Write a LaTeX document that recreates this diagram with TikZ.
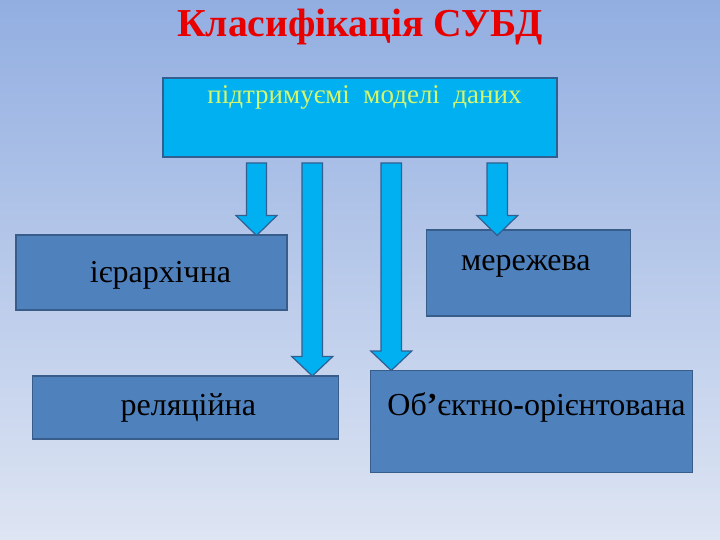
\documentclass[tikz,border=0pt]{standalone}
\usepackage{fontspec}
\setmainfont{Liberation Serif}
\definecolor{bgtop}{RGB}{146,174,225}
\definecolor{bgmid}{RGB}{190,205,236}
\definecolor{bgbot}{RGB}{222,229,243}
\definecolor{boxfill}{RGB}{79,129,189}
\definecolor{boxline}{RGB}{56,93,138}
\definecolor{cyanfill}{RGB}{0,176,240}
\definecolor{cyanline}{RGB}{50,95,145}
\definecolor{toptext}{RGB}{212,246,110}
\definecolor{titlered}{RGB}{232,0,0}
\tikzset{
  box/.style={draw=boxline, line width=1.5pt, fill=boxfill, inner sep=0pt},
  topbox/.style={draw=cyanline, line width=1.5pt, fill=cyanfill, inner sep=0pt},
  boxtext/.style={anchor=base, inner sep=0pt, font=\fontsize{32}{36}\selectfont, text=black},
  blockarrow/.style={draw=cyanline, line width=1.2pt, fill=cyanfill, line join=miter},
}
\newcommand{\blkarrow}[6]{% xl xr ytop yhead halfhead tip-y
  \path[blockarrow] (#1,#3) -- (#2,#3) -- (#2,#4) -- ({(#1+#2)/2+#5},#4) -- ({(#1+#2)/2},#6) -- ({(#1+#2)/2-#5},#4) -- (#1,#4) -- cycle;}
\begin{document}
\begin{tikzpicture}[x=1pt,y=-1pt]
\shade[top color=bgtop, middle color=bgmid, bottom color=bgbot] (0,0) rectangle (720,540);
\useasboundingbox (0,0) rectangle (720,540);
% title
\node[anchor=base, inner sep=0pt, text=titlered, font=\fontsize{39.6}{44}\selectfont\bfseries] (title) at (360,37) {Класифікація СУБД};
% top box
\node[topbox, minimum width=394pt, minimum height=79pt] (top) at (360,117.5) {};
\node[anchor=base, inner sep=0pt, text=toptext, font=\fontsize{27}{31}\selectfont] (toplabel) at (364.5,104) {підтримуємі\ \ моделі\ \ даних};
% boxes
\node[box, minimum width=271pt, minimum height=75pt] (hier) at (151.5,272.5) {};
\node[boxtext] (hierlabel) at (160.5,282) {ієрархічна};
\node[box, minimum width=204pt, minimum height=85.7pt] (net) at (528.7,272.9) {};
\node[boxtext] (netlabel) at (525.8,270) {мережева};
\node[box, minimum width=305.6pt, minimum height=63pt] (rel) at (185.5,407.5) {};
\node[boxtext] (rellabel) at (188.3,415) {реляційна};
\node[box, minimum width=321.6pt, minimum height=101.6pt] (oo) at (531.5,421.5) {};
\node[boxtext] (oolabel) at (536.5,415) {Об\textbf{’}єктно\textbf{-}орієнтована};
% block arrows
\blkarrow{246.5}{266.5}{163}{215.5}{20.5}{235.5}
\blkarrow{302}{322.5}{163}{356.5}{20.5}{376}
\blkarrow{381}{401.5}{163}{351}{20.5}{370.5}
\blkarrow{487}{507.5}{163}{215.5}{20.5}{235.5}
\end{tikzpicture}
\end{document}
